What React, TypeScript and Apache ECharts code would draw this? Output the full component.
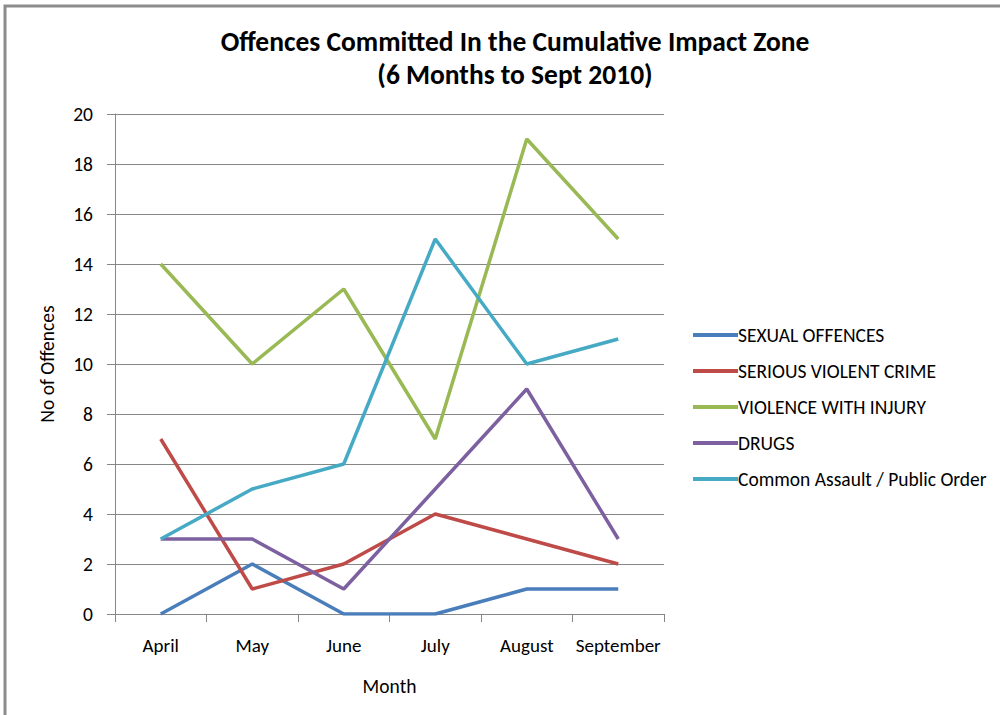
import React, { useEffect, useRef } from "react";
import * as echarts from "echarts";

const months = ["April", "May", "June", "July", "August", "September"];
const sexualOffences = [0, 2, 0, 0, 1, 1];
const seriousViolentCrime = [7, 1, 2, 4, 3, 2];
const violenceWithInjury = [14, 10, 13, 7, 19, 15];
const drugs = [3, 3, 1, 5, 9, 3];
const commonAssault = [3, 5, 6, 15, 10, 11];

const seriesDefs = [
  { name: "SEXUAL OFFENCES", data: sexualOffences, color: "#4A7EBB" },
  { name: "SERIOUS VIOLENT CRIME", data: seriousViolentCrime, color: "#BE4B48" },
  { name: "VIOLENCE WITH INJURY", data: violenceWithInjury, color: "#98B954" },
  { name: "DRUGS", data: drugs, color: "#7D60A0" },
  { name: "Common Assault / Public Order", data: commonAssault, color: "#46AAC5" },
];

const FONT = "Carlito, 'Liberation Sans Narrow', 'Open Sans', sans-serif";

export default function App() {
  const ref = useRef<HTMLDivElement>(null);
  useEffect(() => {
    if (!ref.current) return;
    const chart = echarts.init(ref.current, undefined, { renderer: "svg" });
    chart.setOption({
      animation: false,
      backgroundColor: "#ffffff",
      textStyle: { fontFamily: FONT, color: "#000" },
      graphic: [
        {
          type: "rect",
          shape: { x: 5, y: 6, width: 1100, height: 800 },
          style: { fill: "none", stroke: "#8c8c8c", lineWidth: 3 },
          silent: true,
        },
      ],
      title: {
        text: "Offences Committed In the Cumulative Impact Zone\n(6 Months to Sept 2010)",
        left: 510,
        textAlign: "center",
        top: 20,
        textStyle: {
          fontFamily: FONT,
          fontSize: 27.5,
          fontWeight: "bold",
          lineHeight: 33,
          color: "#000",
        },
      },
      legend: {
        orient: "vertical",
        left: 688,
        top: 320,
        itemWidth: 45,
        itemHeight: 4,
        itemGap: 16,
        icon: "rect",
        textStyle: { fontFamily: FONT, fontSize: 19.5, color: "#000", padding: [0, 0, 0, -5] },
        data: seriesDefs.map((s) => s.name),
      },
      grid: { left: 115, top: 114, right: 336, bottom: 101 },
      xAxis: {
        type: "category",
        data: months,
        boundaryGap: true,
        name: "Month",
        nameLocation: "middle",
        nameGap: 62,
        nameTextStyle: { fontFamily: FONT, fontSize: 19.5, color: "#000" },
        axisLine: { lineStyle: { color: "#868686", width: 1 } },
        axisTick: { show: true, length: 8, lineStyle: { color: "#868686" }, alignWithLabel: false },
        axisLabel: { fontFamily: FONT, fontSize: 19, color: "#000", margin: 22, interval: 0, hideOverlap: false },
      },
      yAxis: {
        type: "value",
        min: 0,
        max: 20,
        interval: 2,
        name: "No of Offences",
        nameLocation: "middle",
        nameGap: 58,
        nameRotate: 90,
        nameTextStyle: { fontFamily: FONT, fontSize: 19.5, color: "#000" },
        axisLine: { show: true, lineStyle: { color: "#868686", width: 1 } },
        axisTick: { show: true, length: 8, lineStyle: { color: "#868686" } },
        axisLabel: { fontFamily: FONT, fontSize: 19.5, color: "#000", margin: 22 },
        splitLine: { show: true, lineStyle: { color: "#868686", width: 1 } },
      },
      series: seriesDefs.map((s) => ({
        name: s.name,
        type: "line",
        data: s.data,
        symbol: "none",
        color: s.color,
        lineStyle: { width: 3.5, color: s.color },
      })),
    });
    return () => chart.dispose();
  }, []);
  return (
    <div
      ref={ref}
      style={{ position: "absolute", left: 0, top: 0, width: 1000, height: 715 }}
    />
  );
}
